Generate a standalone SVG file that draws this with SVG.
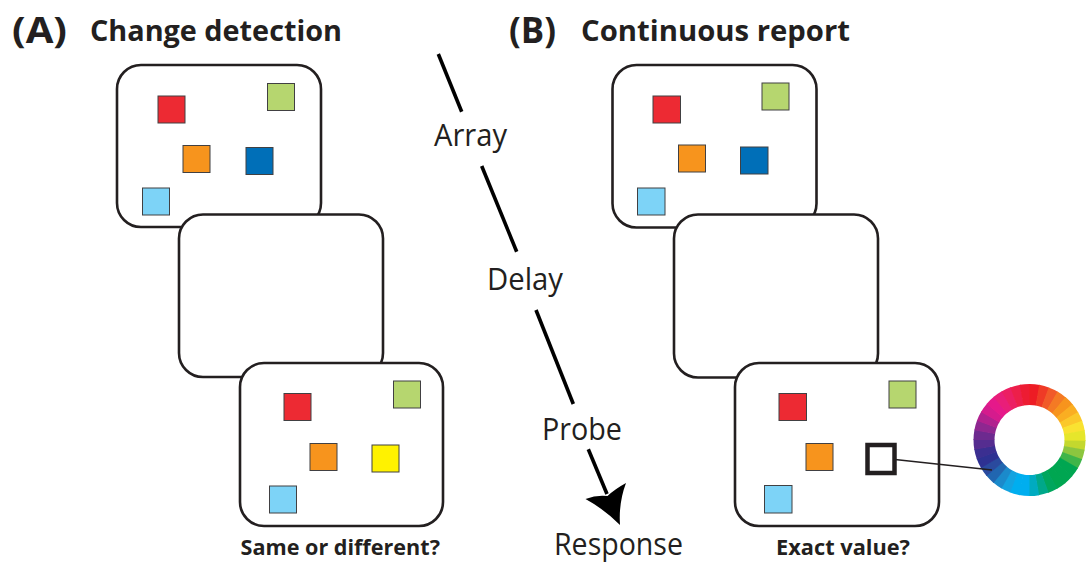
<svg xmlns="http://www.w3.org/2000/svg" width="1086" height="564" viewBox="0 0 1086 564">
<style>
.frame{fill:#fff;stroke:#231f20;stroke-width:2.6}
.sq{stroke:#414042;stroke-width:1}
.red{fill:#ed2a33}.grn{fill:#b6d66f}.org{fill:#f7941d}.blu{fill:#006fb8}.lbl{fill:#7dd3f7}.yel{fill:#fff200}
.title{font-family:"Open Sans","Liberation Sans",sans-serif;font-weight:700;fill:#231f20}
.step{font-family:"Open Sans","Liberation Sans",sans-serif;font-size:31px;fill:#231f20}
.q{font-family:"Open Sans","Liberation Sans",sans-serif;font-weight:700;font-size:22px;fill:#231f20}
.tl{stroke:#000;stroke-width:3.6;fill:none}
.seg{fill:none;stroke-width:21;stroke-dasharray:8.6 300}
</style>
<rect width="1086" height="564" fill="#fff"/>
<g id="titleA">
<text class="title" x="12" y="43" font-size="35" textLength="55" lengthAdjust="spacingAndGlyphs">(A)</text>
<text class="title" x="90" y="41" font-size="28.5" textLength="252" lengthAdjust="spacingAndGlyphs">Change detection</text>
</g>
<g id="titleB">
<text class="title" x="509" y="43" font-size="35" textLength="47" lengthAdjust="spacingAndGlyphs">(B)</text>
<text class="title" x="581" y="41" font-size="28.5" textLength="269" lengthAdjust="spacingAndGlyphs">Continuous report</text>
</g>
<g id="A-array">
<rect class="frame" x="117" y="65" width="204" height="162" rx="24"/>
<rect class="sq red" x="158" y="96" width="27" height="27"/>
<rect class="sq grn" x="267.5" y="83.5" width="27" height="27"/>
<rect class="sq org" x="183" y="145.5" width="27" height="27"/>
<rect class="sq blu" x="246" y="147.5" width="27" height="27"/>
<rect class="sq lbl" x="142.5" y="188" width="27" height="27"/>
</g>
<g id="A-delay">
<rect class="frame" x="179" y="214.5" width="204" height="162.5" rx="24"/>
</g>
<g id="A-probe">
<rect class="frame" x="240" y="363" width="203" height="163" rx="24"/>
<rect class="sq red" x="284" y="393.5" width="27" height="27"/>
<rect class="sq grn" x="393.5" y="381" width="27" height="27"/>
<rect class="sq org" x="310" y="443.5" width="27" height="27"/>
<rect class="sq yel" x="372" y="445" width="27" height="27"/>
<rect class="sq lbl" x="269.5" y="486" width="27" height="27"/>
<text class="q" x="240.5" y="555" textLength="199.5" lengthAdjust="spacingAndGlyphs">Same or different?</text>
</g>
<g id="B-array">
<rect class="frame" x="612.5" y="65" width="204" height="162.5" rx="24"/>
<rect class="sq red" x="653" y="96" width="27.5" height="27"/>
<rect class="sq grn" x="762" y="83" width="27" height="27"/>
<rect class="sq org" x="678.5" y="145" width="27" height="27"/>
<rect class="sq blu" x="740.5" y="147" width="27.5" height="27"/>
<rect class="sq lbl" x="637.5" y="188" width="27.5" height="27"/>
</g>
<g id="B-delay">
<rect class="frame" x="674" y="214.5" width="204" height="163" rx="24"/>
</g>
<g id="B-probe">
<rect class="frame" x="735" y="363" width="204" height="163" rx="24"/>
<rect class="sq red" x="779" y="393.5" width="27.5" height="27"/>
<rect class="sq grn" x="889" y="381" width="27" height="27"/>
<rect class="sq org" x="806" y="443.5" width="27" height="27"/>
<rect x="867.5" y="445" width="27" height="28" fill="#fff" stroke="#231f20" stroke-width="4.5"/>
<rect class="sq lbl" x="764.5" y="485.5" width="27.5" height="27.5"/>
<text class="q" x="776" y="555" textLength="134" lengthAdjust="spacingAndGlyphs">Exact value?</text>
</g>
<g id="colorwheel">
<g transform="translate(1029.5 440)">
<circle class="seg" r="45.5" stroke="#c4d82e" transform="rotate(0)"/>
<circle class="seg" r="45.5" stroke="#8cc63f" transform="rotate(10)"/>
<circle class="seg" r="45.5" stroke="#3fb549" transform="rotate(20)"/>
<circle class="seg" r="45.5" stroke="#00a651" transform="rotate(30)"/>
<circle class="seg" r="45.5" stroke="#00a651" transform="rotate(40)"/>
<circle class="seg" r="45.5" stroke="#00a651" transform="rotate(50)"/>
<circle class="seg" r="45.5" stroke="#00a65d" transform="rotate(60)"/>
<circle class="seg" r="45.5" stroke="#00a88a" transform="rotate(70)"/>
<circle class="seg" r="45.5" stroke="#00abc0" transform="rotate(80)"/>
<circle class="seg" r="45.5" stroke="#00aeef" transform="rotate(90)"/>
<circle class="seg" r="45.5" stroke="#00aeef" transform="rotate(100)"/>
<circle class="seg" r="45.5" stroke="#13a3e0" transform="rotate(110)"/>
<circle class="seg" r="45.5" stroke="#1b8acb" transform="rotate(120)"/>
<circle class="seg" r="45.5" stroke="#2166b0" transform="rotate(130)"/>
<circle class="seg" r="45.5" stroke="#2a4a9e" transform="rotate(140)"/>
<circle class="seg" r="45.5" stroke="#2e3192" transform="rotate(150)"/>
<circle class="seg" r="45.5" stroke="#3b2f91" transform="rotate(160)"/>
<circle class="seg" r="45.5" stroke="#552d90" transform="rotate(170)"/>
<circle class="seg" r="45.5" stroke="#6d2a8f" transform="rotate(180)"/>
<circle class="seg" r="45.5" stroke="#8e2790" transform="rotate(190)"/>
<circle class="seg" r="45.5" stroke="#b1218f" transform="rotate(200)"/>
<circle class="seg" r="45.5" stroke="#d51b8d" transform="rotate(210)"/>
<circle class="seg" r="45.5" stroke="#e5198a" transform="rotate(220)"/>
<circle class="seg" r="45.5" stroke="#e91e79" transform="rotate(230)"/>
<circle class="seg" r="45.5" stroke="#ec1f63" transform="rotate(240)"/>
<circle class="seg" r="45.5" stroke="#ed1f4a" transform="rotate(250)"/>
<circle class="seg" r="45.5" stroke="#ed1c33" transform="rotate(260)"/>
<circle class="seg" r="45.5" stroke="#ed1c24" transform="rotate(270)"/>
<circle class="seg" r="45.5" stroke="#ef3a26" transform="rotate(280)"/>
<circle class="seg" r="45.5" stroke="#f15a29" transform="rotate(290)"/>
<circle class="seg" r="45.5" stroke="#f47a24" transform="rotate(300)"/>
<circle class="seg" r="45.5" stroke="#f7941d" transform="rotate(310)"/>
<circle class="seg" r="45.5" stroke="#faae22" transform="rotate(320)"/>
<circle class="seg" r="45.5" stroke="#fbc82a" transform="rotate(330)"/>
<circle class="seg" r="45.5" stroke="#f9e231" transform="rotate(340)"/>
<circle class="seg" r="45.5" stroke="#e6e62b" transform="rotate(350)"/>
</g>
</g>
<g id="timeline-labels">
<text class="step" x="434" y="146" textLength="73" lengthAdjust="spacingAndGlyphs">Array</text>
<text class="step" x="487" y="290" textLength="76" lengthAdjust="spacingAndGlyphs">Delay</text>
<text class="step" x="542" y="440" textLength="80" lengthAdjust="spacingAndGlyphs">Probe</text>
<text class="step" x="554" y="555" textLength="129" lengthAdjust="spacingAndGlyphs">Response</text>
</g>
<g id="connectors">
<line class="tl" x1="438.3" y1="54" x2="461.7" y2="111.7"/>
<line class="tl" x1="481.7" y1="166" x2="516.7" y2="251.7"/>
<line class="tl" x1="536" y1="310" x2="573.3" y2="404"/>
<line class="tl" x1="588.3" y1="449.3" x2="607" y2="494"/>
<path d="M620,525 Q604,509 585.5,499 Q597,494.5 607.5,496 Q615,489 626,483 Q618.5,503 620,525 Z" fill="#000"/>
<line x1="895" y1="459.5" x2="992" y2="470" stroke="#231f20" stroke-width="1.6"/>
</g>
</svg>
